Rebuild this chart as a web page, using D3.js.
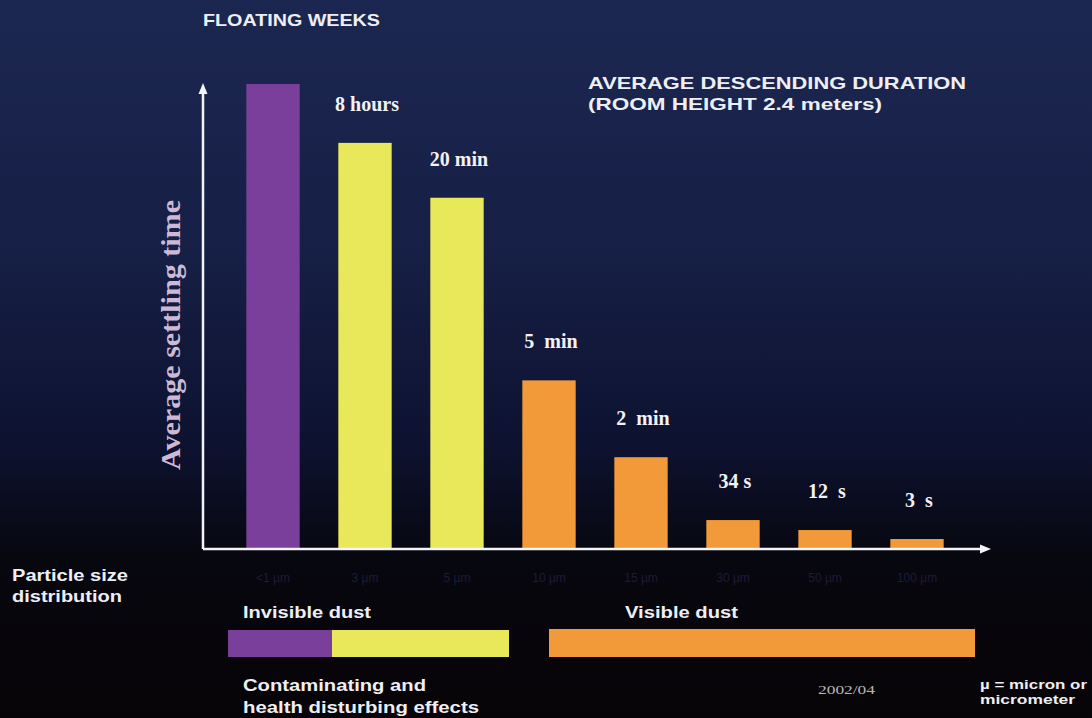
<!DOCTYPE html>
<html>
<head>
<meta charset="utf-8">
<script src="https://cdn.jsdelivr.net/npm/d3@7"></script>
<style>
  html, body { margin: 0; padding: 0; background: #000; }
  svg { display: block; }
</style>
</head>
<body>
<div id="chart"></div>
<script>
// particle sizes and their (schematic) settling heights
const sizes = ['<1 µm', '3 µm', '5 µm', '10 µm', '15 µm', '30 µm', '50 µm', '100 µm'];
const settling = [466, 407, 352, 169, 92, 29, 19, 10];
const durations = ['FLOATING WEEKS', '8 hours', '20 min', '5  min', '2  min', '34 s', '12  s', '3  s'];
const dustKind = ['invisible', 'yellow', 'yellow', 'visible', 'visible', 'visible', 'visible', 'visible'];

const colors = { invisible: '#7a3f9b', yellow: '#e9e85b', visible: '#f2993a' };

const W = 1092, H = 718;
const svg = d3.select('#chart').append('svg').attr('width', W).attr('height', H);

// background: navy fading to black
const defs = svg.append('defs');
const grad = defs.append('linearGradient').attr('id', 'bg').attr('x1', 0).attr('y1', 0).attr('x2', 0).attr('y2', 1);
grad.append('stop').attr('offset', '0%').attr('stop-color', '#1c2751');
grad.append('stop').attr('offset', '35%').attr('stop-color', '#161f45');
grad.append('stop').attr('offset', '62%').attr('stop-color', '#0d1230');
grad.append('stop').attr('offset', '78%').attr('stop-color', '#07070f');
grad.append('stop').attr('offset', '100%').attr('stop-color', '#070407');
svg.append('rect').attr('width', W).attr('height', H).attr('fill', 'url(#bg)');

const x0 = 203, yBase = 549;
const x = d3.scaleBand().domain(sizes).range([227, 963]).paddingInner(0.42).paddingOuter(0.21);
const y = d3.scaleLinear().domain([0, 470]).range([yBase, 80]);

// bars
svg.append('g').selectAll('rect').data(sizes).join('rect')
  .attr('x', d => x(d))
  .attr('y', (d, i) => y(settling[i]))
  .attr('width', x.bandwidth())
  .attr('height', (d, i) => yBase - y(settling[i]))
  .attr('fill', (d, i) => colors[dustKind[i]]);

// axes with arrows
const axisG = svg.append('g').attr('stroke', '#f4f4f8').attr('stroke-width', 2.5);
axisG.append('line').attr('x1', x0).attr('y1', yBase).attr('x2', x0).attr('y2', 92);
axisG.append('line').attr('x1', x0).attr('y1', yBase).attr('x2', 982).attr('y2', yBase);
svg.append('path').attr('d', `M${x0},83 L${x0 - 4.5},94 L${x0 + 4.5},94 Z`).attr('fill', '#f4f4f8');
svg.append('path').attr('d', `M991,${yBase} L980,${yBase - 4.5} L980,${yBase + 4.5} Z`).attr('fill', '#f4f4f8');

// dim size tick labels
const xAxis = d3.axisBottom(x).tickSize(0).tickPadding(0);
const xg = svg.append('g').attr('transform', `translate(0,${yBase + 29})`).call(xAxis);
xg.select('.domain').remove();
xg.selectAll('text').attr('fill', '#1e1b3a').attr('font-family', 'Liberation Sans, Arial, sans-serif')
  .attr('font-size', 12).attr('dy', '0.35em');

// duration labels
const serif = 'Liberation Serif, Times New Roman, serif';
const sans = 'Liberation Sans, Arial, sans-serif';
svg.append('g').selectAll('text').data(sizes.slice(1)).join('text')
  .attr('x', d => x(d) + x.bandwidth() / 2 + 2)
  .attr('y', (d, i) => y(settling[i + 1]) - 32)
  .attr('text-anchor', 'middle')
  .attr('fill', '#f3f1f4')
  .attr('font-family', serif).attr('font-weight', 'bold').attr('font-size', 20)
  .attr('xml:space', 'preserve')
  .text((d, i) => durations[i + 1]);

function label(tx, ty, str, size, len) {
  const t = svg.append('text').attr('x', tx).attr('y', ty).attr('fill', '#eeeff4')
    .attr('font-family', sans).attr('font-weight', 'bold').attr('font-size', size).text(str);
  if (len) t.attr('textLength', len).attr('lengthAdjust', 'spacingAndGlyphs');
  return t;
}

label(203, 26, durations[0], 17, 177);
label(588, 89, 'AVERAGE DESCENDING DURATION', 17, 378);
label(588, 110, '(ROOM HEIGHT 2.4 meters)', 17, 294);

// y title
svg.append('text').attr('transform', 'translate(180,335) rotate(-90)')
  .attr('text-anchor', 'middle').attr('fill', '#cdb9d6')
  .attr('font-family', serif).attr('font-weight', 'bold').attr('font-size', 28)
  .attr('textLength', 270).attr('lengthAdjust', 'spacingAndGlyphs')
  .text('Average settling time');

// left caption
label(12, 581, 'Particle size', 16, 116);
label(12, 602, 'distribution', 16, 110);

// legend strip
label(243, 618, 'Invisible dust', 17, 128);
label(625, 618, 'Visible dust', 17, 113);
svg.append('rect').attr('x', 228).attr('y', 630).attr('width', 104).attr('height', 27).attr('fill', colors.invisible);
svg.append('rect').attr('x', 332).attr('y', 630).attr('width', 177).attr('height', 27).attr('fill', colors.yellow);
svg.append('rect').attr('x', 549).attr('y', 629).attr('width', 426).attr('height', 28).attr('fill', colors.visible);

label(243, 691, 'Contaminating and', 17, 183);
label(243, 713, 'health disturbing effects', 17, 236);

svg.append('text').attr('x', 818).attr('y', 694)
  .attr('fill', '#b8b6b8').attr('font-family', serif).attr('font-size', 13)
  .attr('textLength', 57).attr('lengthAdjust', 'spacingAndGlyphs').text('2002/04');

label(980, 689, 'µ = micron or', 13, 107);
label(980, 704, 'micrometer', 13, 95);
</script>
</body>
</html>
